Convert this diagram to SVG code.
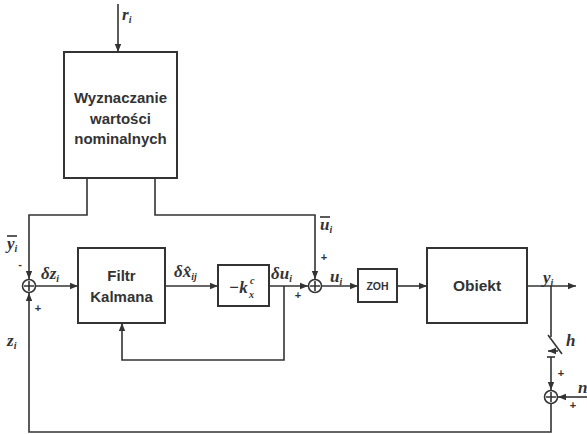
<svg xmlns="http://www.w3.org/2000/svg" width="587" height="434" viewBox="0 0 587 434">
<defs>
<marker id="ah" viewBox="0 0 10 10" refX="10" refY="5" markerWidth="8" markerHeight="8" markerUnits="userSpaceOnUse" orient="auto">
<path d="M0,1 L10,5 L0,9 z" fill="#333"/>
</marker>
</defs>
<style>
.box{fill:#fff;stroke:#333;stroke-width:2}
.ln{fill:none;stroke:#333;stroke-width:1.6}
.ar{fill:none;stroke:#333;stroke-width:1.6;marker-end:url(#ah)}
.bt{font-family:"Liberation Sans",Arial,sans-serif;font-weight:bold;fill:#333;text-anchor:middle}
.m{font-family:"Liberation Serif","Times New Roman",serif;font-style:italic;font-weight:bold;fill:#333;font-size:17px}
.s{font-size:10px}
.pm{font-family:"Liberation Sans",Arial,sans-serif;font-weight:bold;fill:#333;font-size:11px;text-anchor:middle}
.sum{fill:#fff;stroke:#333;stroke-width:1.6}
</style>
<rect width="587" height="434" fill="#fff"/>
<g id="connectors">
<line class="ar" x1="118" y1="4" x2="118" y2="52"/>
<polyline class="ar" points="87,178 87,215 29,215 29,279"/>
<polyline class="ar" points="155,178 155,215 315,215 315,279"/>
<line class="ar" x1="35" y1="286" x2="78" y2="286"/>
<line class="ar" x1="165" y1="286" x2="218" y2="286"/>
<line class="ar" x1="269" y1="286" x2="308" y2="286"/>
<polyline class="ar" points="284,286 284,360 122,360 122,323"/>
<line class="ar" x1="322" y1="286" x2="358" y2="286"/>
<line class="ar" x1="397" y1="286" x2="427" y2="286"/>
<line class="ar" x1="527" y1="286" x2="576" y2="286"/>
<line class="ln" x1="551" y1="286" x2="551" y2="337"/>
<line class="ln" x1="548" y1="335" x2="562" y2="354"/>
<line class="ar" x1="558" y1="351" x2="548" y2="351"/>
<line class="ln" x1="547" y1="357" x2="555" y2="357"/>
<line class="ar" x1="551" y1="357" x2="551" y2="390"/>
<line class="ar" x1="587" y1="397" x2="558" y2="397"/>
<polyline class="ar" points="551,404 551,432 29,432 29,293"/>
</g>
<g id="wyznaczanie">
<rect class="box" x="64" y="52" width="113" height="126"/>
<text class="bt" font-size="15" x="120.5" y="103">Wyznaczanie</text>
<text class="bt" font-size="15" x="120.5" y="124">wartości</text>
<text class="bt" font-size="15" x="120.5" y="144">nominalnych</text>
</g>
<g id="sum1">
<circle class="sum" cx="29" cy="286" r="6.5"/>
<path class="ln" d="M24,286 H34 M29,281 V291"/>
</g>
<g id="kalman">
<rect class="box" x="78" y="248" width="87" height="75"/>
<text class="bt" font-size="15" x="121.5" y="281">Filtr</text>
<text class="bt" font-size="15" x="121.5" y="302">Kalmana</text>
</g>
<g id="gain">
<rect class="box" x="218" y="265" width="51" height="41"/>
<text class="m" x="229" y="293">−k</text>
<text class="m s" x="250" y="284">c</text>
<text class="m s" x="249" y="298">x</text>
</g>
<g id="sum2">
<circle class="sum" cx="315" cy="286" r="6.5"/>
<path class="ln" d="M310,286 H320 M315,281 V291"/>
</g>
<g id="zoh">
<rect class="box" x="358" y="269" width="39" height="33"/>
<text class="bt" font-size="10.5" x="377.5" y="290">ZOH</text>
</g>
<g id="objekt">
<rect class="box" x="427" y="248" width="100" height="75"/>
<text class="bt" font-size="15.5" x="477" y="291">Obiekt</text>
</g>
<g id="sum3">
<circle class="sum" cx="551" cy="397" r="6.5"/>
<path class="ln" d="M546,397 H556 M551,392 V402"/>
</g>
<g id="labels">
<text class="m" x="122" y="20">r<tspan class="s" dy="3">i</tspan></text>
<text class="m" x="7" y="249">y<tspan class="s" dy="3">i</tspan></text>
<line class="ln" x1="7" y1="236" x2="17" y2="236"/>
<text class="pm" x="20" y="268">-</text>
<text class="m" x="41" y="279">δz<tspan class="s" dy="3">i</tspan></text>
<text class="pm" x="38" y="312">+</text>
<text class="m" x="7" y="346">z<tspan class="s" dy="3">i</tspan></text>
<text class="m" x="174" y="277">δx̂<tspan class="s" dy="3">ij</tspan></text>
<text class="m" x="271" y="279">δu<tspan class="s" dy="3">i</tspan></text>
<text class="pm" x="298" y="299">+</text>
<text class="m" x="320" y="230">u<tspan class="s" dy="3">i</tspan></text>
<line class="ln" x1="320" y1="217" x2="330" y2="217"/>
<text class="pm" x="324" y="261">+</text>
<text class="m" x="330" y="282">u<tspan class="s" dy="3">i</tspan></text>
<text class="m" x="543" y="283">y<tspan class="s" dy="3">i</tspan></text>
<text class="m" x="566" y="346">h</text>
<text class="pm" x="561" y="377">+</text>
<text class="pm" x="573" y="409">+</text>
<text class="m" x="578" y="393">n</text>
</g>
</svg>
